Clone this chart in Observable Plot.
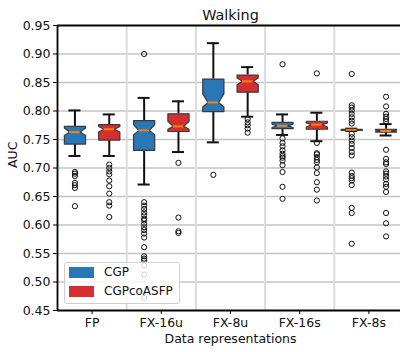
<!DOCTYPE html>
<html><head><meta charset="utf-8">
<script src="https://cdn.jsdelivr.net/npm/d3@7"></script>
<script src="https://cdn.jsdelivr.net/npm/@observablehq/plot@0.6"></script>
<style>
body{margin:0;background:#fff;font-family:"DejaVu Sans",sans-serif;}
#wrap{position:relative;width:400px;height:352px;overflow:hidden;}
#wrap svg{font-family:"DejaVu Sans",sans-serif;}
.legend{position:absolute;left:64px;top:262px;width:114px;height:40px;border:1px solid #cfcfcf;border-radius:3px;background:rgba(255,255,255,0.8);font-size:12px;color:#111;}
.legend .row{position:absolute;left:4px;height:12px;}
.legend .sw{position:absolute;left:0;top:0;width:25px;height:11px;}
.legend .lb{position:absolute;left:35px;top:-2px;white-space:nowrap;}
</style></head><body><div id="wrap"></div>
<script>
const categories = ["FP", "FX-16u", "FX-8u", "FX-16s", "FX-8s"];
const series = ["CGP", "CGPcoASFP"];
const colors = ["#2a77b8", "#d62f2f"];
const yTicks = [0.45, 0.50, 0.55, 0.60, 0.65, 0.70, 0.75, 0.80, 0.85, 0.90, 0.95];

// CGP
const cgpWhiskerHi = [0.801, 0.823, 0.919, 0.794, 0.769];
const cgpQ3        = [0.773, 0.783, 0.856, 0.780, 0.768];
const cgpNotchHi   = [0.770, 0.776, 0.830, 0.777, 0.7675];
const cgpMedian    = [0.763, 0.766, 0.815, 0.774, 0.767];
const cgpNotchLo   = [0.757, 0.758, 0.807, 0.771, 0.7665];
const cgpQ1        = [0.742, 0.731, 0.799, 0.769, 0.766];
const cgpWhiskerLo = [0.721, 0.671, 0.745, 0.758, 0.765];
const cgpOutliers = [
  [0.693, 0.690, 0.686, 0.674, 0.670, 0.665, 0.633],
  [0.900, 0.640, 0.634, 0.628, 0.622, 0.617, 0.611, 0.608, 0.602, 0.596, 0.591, 0.585, 0.578, 0.561, 0.545, 0.541, 0.538, 0.529, 0.513, 0.472],
  [0.688],
  [0.882, 0.752, 0.744, 0.738, 0.731, 0.725, 0.721, 0.718, 0.713, 0.705, 0.693, 0.667, 0.646],
  [0.865, 0.810, 0.806, 0.801, 0.795, 0.789, 0.783, 0.778, 0.760, 0.754, 0.748, 0.742, 0.735, 0.728, 0.722, 0.692, 0.686, 0.682, 0.678, 0.670, 0.630, 0.621, 0.567]
];

// CGPcoASFP
const asfpWhiskerHi = [0.794, 0.817, 0.877, 0.797, 0.777];
const asfpQ3        = [0.776, 0.795, 0.863, 0.782, 0.768];
const asfpNotchHi   = [0.773, 0.782, 0.858, 0.779, 0.7665];
const asfpMedian    = [0.768, 0.773, 0.852, 0.776, 0.765];
const asfpNotchLo   = [0.763, 0.768, 0.846, 0.772, 0.7635];
const asfpQ1        = [0.749, 0.764, 0.833, 0.768, 0.763];
const asfpWhiskerLo = [0.721, 0.728, 0.790, 0.747, 0.757];
const asfpOutliers = [
  [0.706, 0.700, 0.694, 0.689, 0.678, 0.668, 0.655, 0.640, 0.634, 0.614],
  [0.709, 0.613, 0.589, 0.586],
  [0.786, 0.780, 0.775, 0.769, 0.762],
  [0.866, 0.744, 0.726, 0.724, 0.719, 0.714, 0.710, 0.701, 0.691, 0.675, 0.662, 0.643],
  [0.825, 0.808, 0.795, 0.790, 0.786, 0.782, 0.732, 0.716, 0.710, 0.707, 0.694, 0.690, 0.685, 0.680, 0.672, 0.667, 0.658, 0.621, 0.603, 0.580]
];

// layout in x units (1 unit = one category band)
const offsets = [-0.248, 0.248];
const hw = 0.153, capHw = 0.087;

const stats = [
  {wHi: cgpWhiskerHi, q3: cgpQ3, nHi: cgpNotchHi, med: cgpMedian, nLo: cgpNotchLo, q1: cgpQ1, wLo: cgpWhiskerLo, out: cgpOutliers},
  {wHi: asfpWhiskerHi, q3: asfpQ3, nHi: asfpNotchHi, med: asfpMedian, nLo: asfpNotchLo, q1: asfpQ1, wLo: asfpWhiskerLo, out: asfpOutliers}
];

const boxes = [], polys = [], outs = [];
stats.forEach((s, si) => {
  categories.forEach((c, i) => {
    const cx = i + offsets[si];
    const b = {series: series[si], cx, wHi: s.wHi[i], q3: s.q3[i], nHi: s.nHi[i], med: s.med[i], nLo: s.nLo[i], q1: s.q1[i], wLo: s.wLo[i]};
    boxes.push(b);
    const L = cx - hw, R = cx + hw, nl = cx - hw / 2, nr = cx + hw / 2;
    const id = si + "-" + i;
    [[L, b.q1], [L, b.nLo], [nl, b.med], [L, b.nHi], [L, b.q3], [R, b.q3], [R, b.nHi], [nr, b.med], [R, b.nLo], [R, b.q1]]
      .forEach(([x, y]) => polys.push({id, series: series[si], x, y}));
    s.out[i].forEach(v => outs.push({x: cx, y: v}));
  });
});

const chart = Plot.plot({
  width: 400, height: 352,
  marginLeft: 57, marginRight: -3, marginTop: 25, marginBottom: 42,
  style: {fontFamily: "DejaVu Sans, sans-serif", fontSize: "12px", color: "#111", overflow: "visible"},
  x: {domain: [-0.5, 4.5], axis: null},
  y: {domain: [0.45, 0.95], axis: null},
  color: {domain: series, range: colors},
  marks: [
    Plot.ruleY(yTicks.slice(1, -1), {stroke: "#c4c4c4", strokeWidth: 1.5}),
    Plot.ruleX(d3.range(categories.length - 1).map(i => i + 0.5), {stroke: "#dcdcdc", strokeWidth: 2}),
    Plot.ruleX(boxes, {x: "cx", y1: "q3", y2: "wHi", stroke: "#111", strokeWidth: 2}),
    Plot.ruleX(boxes, {x: "cx", y1: "q1", y2: "wLo", stroke: "#111", strokeWidth: 2}),
    Plot.ruleY(boxes, {y: "wHi", x1: d => d.cx - capHw, x2: d => d.cx + capHw, stroke: "#111", strokeWidth: 2}),
    Plot.ruleY(boxes, {y: "wLo", x1: d => d.cx - capHw, x2: d => d.cx + capHw, stroke: "#111", strokeWidth: 2}),
    Plot.line(polys, {x: "x", y: "y", z: "id", fill: "series", stroke: "#3a3a3a", strokeWidth: 1.2, curve: "linear-closed"}),
    Plot.ruleY(boxes, {y: "med", x1: d => d.cx - hw / 2, x2: d => d.cx + hw / 2, stroke: "#ff7f0e", strokeWidth: 2}),
    Plot.dot(outs, {x: "x", y: "y", r: 2.6, stroke: "#111", strokeWidth: 1, fill: "none"}),
    Plot.ruleY([0.95, 0.45], {stroke: "#000", strokeWidth: 1.8}),
    Plot.ruleX([-0.5], {stroke: "#000", strokeWidth: 1.8}),
    Plot.axisY(yTicks, {tickFormat: d3.format(".2f"), tickSize: 4, tickPadding: 3, stroke: "#000", fontSize: 12.5, label: null}),
    Plot.axisX(d3.range(categories.length), {tickFormat: i => categories[i], tickSize: 4, tickPadding: 4, stroke: "#000", fontSize: 12.5, label: null}),
    Plot.text(["Walking"], {frameAnchor: "top", dy: -16, fontSize: 14.4, fill: "#111"}),
    Plot.text(["Data representations"], {frameAnchor: "bottom", dy: 32, fontSize: 12.5, fill: "#111"}),
    Plot.text(["AUC"], {frameAnchor: "left", dx: -45, rotate: -90, fontSize: 12.5, fill: "#111"})
  ]
});
const wrap = document.getElementById("wrap");
wrap.appendChild(chart);

const legend = document.createElement("div");
legend.className = "legend";
series.forEach((s, i) => {
  const row = document.createElement("div");
  row.className = "row";
  row.style.top = (4 + i * 18.5) + "px";
  row.innerHTML = `<div class="sw" style="background:${colors[i]}"></div><div class="lb">${s}</div>`;
  legend.appendChild(row);
});
wrap.appendChild(legend);
</script></body></html>
